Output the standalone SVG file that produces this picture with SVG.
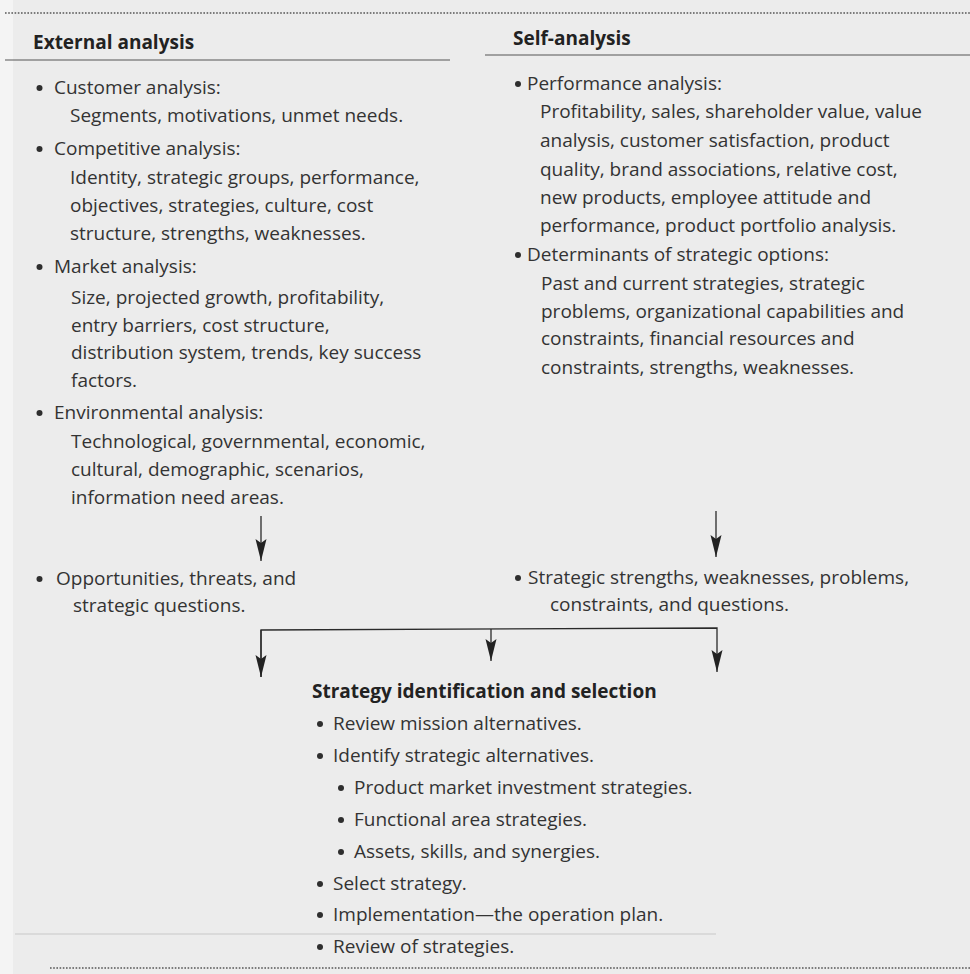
<svg xmlns="http://www.w3.org/2000/svg" width="970" height="974" viewBox="0 0 970 974">
  <defs>
    <style>
      .t { font-family: "Open Sans", "Noto Sans", "Liberation Sans", sans-serif; font-size: 19px; fill: #333333; }
      .h { font-family: "Open Sans", "Noto Sans", "Liberation Sans", sans-serif; font-size: 19px; font-weight: 700; fill: #222222; }
      .dot { fill: #2e2e2e; }
      .rule { stroke: #555555; stroke-width: 1.2; fill: none; }
      .faint { stroke: #c8c8c8; stroke-width: 1; fill: none; }
      .dotted { stroke: #555555; stroke-width: 1.4; stroke-dasharray: 1.6 1.6; fill: none; }
      .conn { stroke: #2a2a2a; stroke-width: 1.3; fill: none; }
    </style>
    <marker id="arrow" viewBox="0 -6 22 12" refX="22" refY="0" markerWidth="22" markerHeight="12" markerUnits="userSpaceOnUse" orient="auto">
      <path d="M0,-5.5 L22,0 L0,5.5 L4,0 Z" fill="#222222"/>
    </marker>
  </defs>

  <!-- page -->
  <rect x="0" y="0" width="970" height="974" fill="#ececec"/>
  <rect x="0" y="0" width="13" height="974" fill="#f4f4f4"/>
  <line class="dotted" x1="5" y1="13" x2="970" y2="13"/>
  <line class="dotted" x1="50" y1="968" x2="970" y2="968"/>
  <line class="faint" x1="15" y1="934" x2="716" y2="934"/>

  <!-- External analysis column -->
  <g id="external-analysis">
    <text class="h" x="33" y="49">External analysis</text>
    <line class="rule" x1="5" y1="60" x2="450" y2="60"/>
    <circle class="dot" cx="39.5" cy="88" r="3"/>
    <text class="t" x="54" y="94">Customer analysis:</text>
    <text class="t" x="70" y="122">Segments, motivations, unmet needs.</text>
    <circle class="dot" cx="39.5" cy="149" r="3"/>
    <text class="t" x="54" y="155">Competitive analysis:</text>
    <text class="t" x="70" y="184">Identity, strategic groups, performance,</text>
    <text class="t" x="70" y="212">objectives, strategies, culture, cost</text>
    <text class="t" x="70" y="240">structure, strengths, weaknesses.</text>
    <circle class="dot" cx="39.5" cy="267" r="3"/>
    <text class="t" x="54" y="273">Market analysis:</text>
    <text class="t" x="71" y="304">Size, projected growth, profitability,</text>
    <text class="t" x="71" y="332">entry barriers, cost structure,</text>
    <text class="t" x="71" y="359">distribution system, trends, key success</text>
    <text class="t" x="71" y="387">factors.</text>
    <circle class="dot" cx="39.5" cy="413" r="3"/>
    <text class="t" x="54" y="419">Environmental analysis:</text>
    <text class="t" x="71" y="448">Technological, governmental, economic,</text>
    <text class="t" x="71" y="476">cultural, demographic, scenarios,</text>
    <text class="t" x="71" y="504">information need areas.</text>
  </g>

  <!-- Self-analysis column -->
  <g id="self-analysis">
    <text class="h" x="513" y="45">Self-analysis</text>
    <line class="rule" x1="485" y1="55" x2="970" y2="55"/>
    <circle class="dot" cx="518" cy="84" r="3"/>
    <text class="t" x="527" y="90">Performance analysis:</text>
    <text class="t" x="540" y="118">Profitability, sales, shareholder value, value</text>
    <text class="t" x="540" y="147">analysis, customer satisfaction, product</text>
    <text class="t" x="540" y="176">quality, brand associations, relative cost,</text>
    <text class="t" x="540" y="204">new products, employee attitude and</text>
    <text class="t" x="540" y="232">performance, product portfolio analysis.</text>
    <circle class="dot" cx="518" cy="255" r="3"/>
    <text class="t" x="527" y="261">Determinants of strategic options:</text>
    <text class="t" x="541" y="290">Past and current strategies, strategic</text>
    <text class="t" x="541" y="318">problems, organizational capabilities and</text>
    <text class="t" x="541" y="345">constraints, financial resources and</text>
    <text class="t" x="541" y="374">constraints, strengths, weaknesses.</text>
  </g>

  <!-- External conclusions -->
  <g id="opportunities-threats">
    <circle class="dot" cx="39.5" cy="579" r="3"/>
    <text class="t" x="56" y="585">Opportunities, threats, and</text>
    <text class="t" x="73" y="612">strategic questions.</text>
  </g>

  <!-- Internal conclusions -->
  <g id="strengths-weaknesses">
    <circle class="dot" cx="518" cy="578" r="3"/>
    <text class="t" x="528" y="584">Strategic strengths, weaknesses, problems,</text>
    <text class="t" x="550" y="611">constraints, and questions.</text>
  </g>

  <!-- Strategy identification and selection -->
  <g id="strategy-selection">
    <text class="h" x="312" y="698">Strategy identification and selection</text>
    <circle class="dot" cx="320" cy="724" r="3"/>
    <text class="t" x="333" y="730">Review mission alternatives.</text>
    <circle class="dot" cx="320" cy="756" r="3"/>
    <text class="t" x="333" y="762">Identify strategic alternatives.</text>
    <circle class="dot" cx="341" cy="788" r="3"/>
    <text class="t" x="354" y="794">Product market investment strategies.</text>
    <circle class="dot" cx="341" cy="820" r="3"/>
    <text class="t" x="354" y="826">Functional area strategies.</text>
    <circle class="dot" cx="341" cy="852" r="3"/>
    <text class="t" x="354" y="858">Assets, skills, and synergies.</text>
    <circle class="dot" cx="320" cy="884" r="3"/>
    <text class="t" x="333" y="890">Select strategy.</text>
    <circle class="dot" cx="320" cy="915" r="3"/>
    <text class="t" x="333" y="921">Implementation—the operation plan.</text>
    <circle class="dot" cx="320" cy="947" r="3"/>
    <text class="t" x="333" y="953">Review of strategies.</text>
  </g>

  <!-- connectors -->
  <g id="connectors">
    <line class="conn" x1="261" y1="516" x2="261" y2="561" marker-end="url(#arrow)"/>
    <line class="conn" x1="716" y1="511" x2="716" y2="557" marker-end="url(#arrow)"/>
    <polyline class="conn" points="261,677 261,630 717,628 717,672" marker-end="url(#arrow)"/>
    <line class="conn" x1="261" y1="630" x2="261" y2="677" marker-end="url(#arrow)"/>
    <line class="conn" x1="491" y1="629" x2="491" y2="661" marker-end="url(#arrow)"/>
  </g>
</svg>
